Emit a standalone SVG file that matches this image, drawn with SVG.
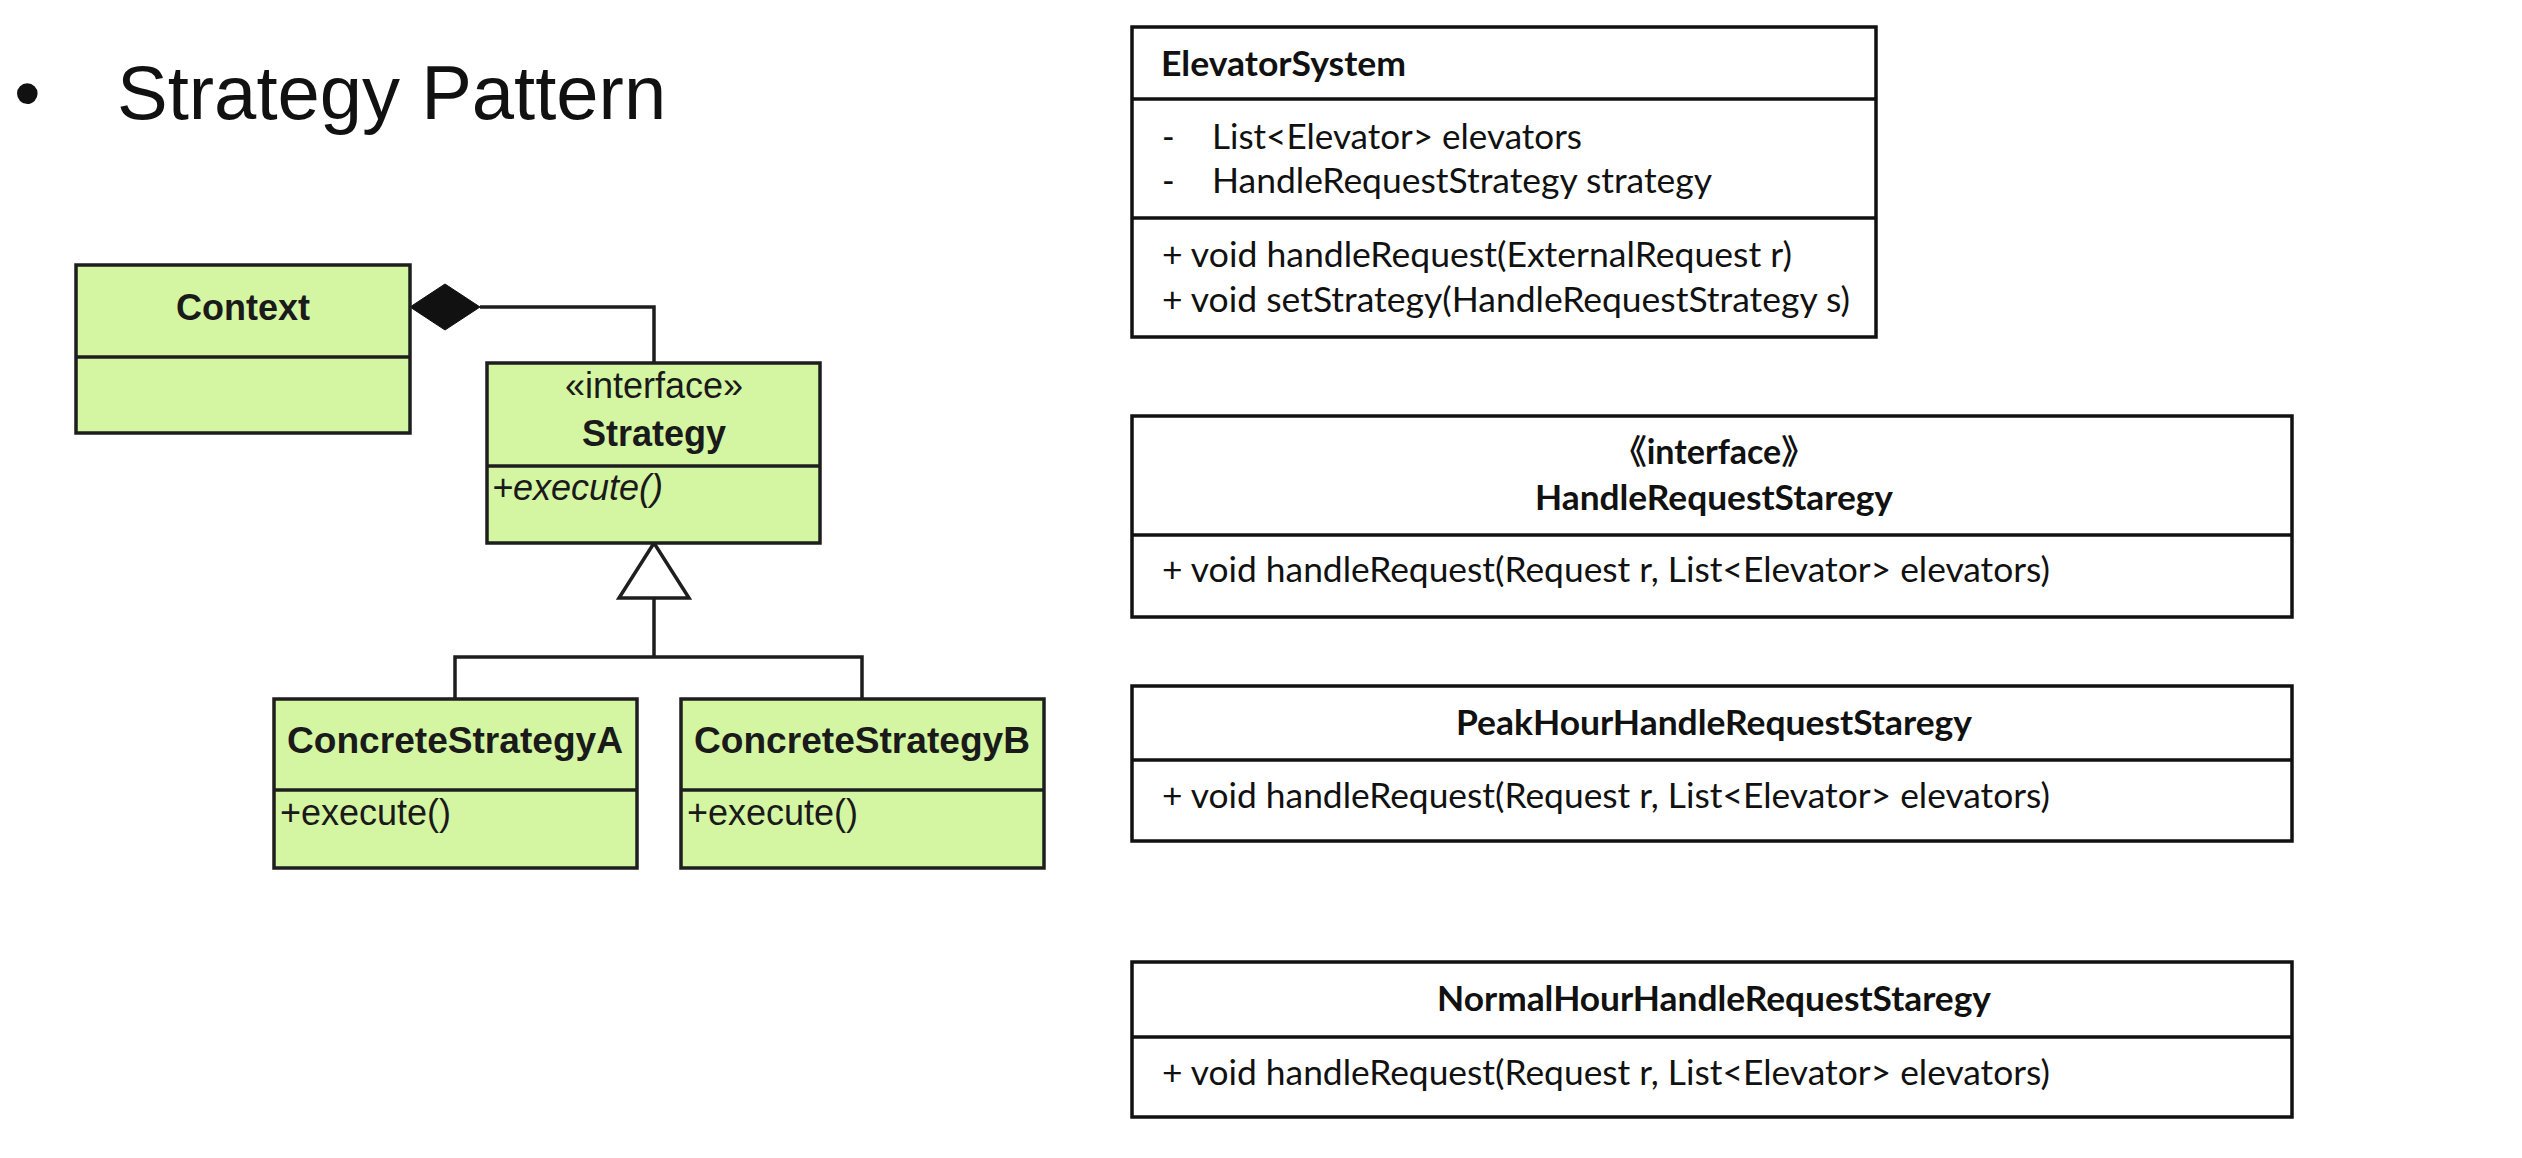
<svg xmlns="http://www.w3.org/2000/svg" width="2522" height="1158" viewBox="0 0 2522 1158">
<style>
.g{fill:#d4f5a2;stroke:#1e1e1e;stroke-width:3.5}
.w{fill:#fff;stroke:#111;stroke-width:3.5}
.ln{stroke:#1e1e1e;stroke-width:3.5;fill:none}
.a{font-family:"Liberation Sans",Arial,sans-serif;fill:#1a1a1a;font-size:36px}
.ab{font-weight:bold}
.it{font-style:italic}
.c{font-family:Lato,"Open Sans","Noto Sans CJK SC",sans-serif;fill:#111;font-size:34px}
.cb{font-weight:bold}
</style>
<rect width="2522" height="1158" fill="#fff"/>
<g id="title">
<text x="14" y="119" font-family="Liberation Sans, Arial, sans-serif" font-size="76" fill="#111">•</text>
<text x="117" y="119" font-family="Liberation Sans, Arial, sans-serif" font-size="76" fill="#111">Strategy Pattern</text>
</g>
<g id="connectors">
<path class="ln" d="M480,307 H654 V363"/>
<polygon points="410,307 445,284 480,307 445,330" fill="#111" stroke="#111" stroke-width="1"/>
<polygon points="654,543 619,598 689,598" fill="#fff" stroke="#1e1e1e" stroke-width="3.5"/>
<path class="ln" d="M654,598 V657 M455,699 V657 H862 V699"/>
</g>
<g id="context">
<rect class="g" x="76" y="265" width="334" height="168"/>
<line class="ln" x1="76" y1="357" x2="410" y2="357"/>
<text class="a ab" x="243" y="320" text-anchor="middle">Context</text>
</g>
<g id="strategy">
<rect class="g" x="487" y="363" width="333" height="180"/>
<line class="ln" x1="487" y1="466" x2="820" y2="466"/>
<text class="a" x="654" y="398" text-anchor="middle" font-size="33">«interface»</text>
<text class="a ab" x="654" y="446" text-anchor="middle">Strategy</text>
<text class="a it" x="492" y="500">+execute()</text>
</g>
<g id="concreteA">
<rect class="g" x="274" y="699" width="363" height="169"/>
<line class="ln" x1="274" y1="790" x2="637" y2="790"/>
<text class="a ab" x="455" y="753" text-anchor="middle" textLength="336" lengthAdjust="spacingAndGlyphs">ConcreteStrategyA</text>
<text class="a" x="280" y="825">+execute()</text>
</g>
<g id="concreteB">
<rect class="g" x="681" y="699" width="363" height="169"/>
<line class="ln" x1="681" y1="790" x2="1044" y2="790"/>
<text class="a ab" x="862" y="753" text-anchor="middle" textLength="336" lengthAdjust="spacingAndGlyphs">ConcreteStrategyB</text>
<text class="a" x="687" y="825">+execute()</text>
</g>
<g id="elevatorSystem">
<rect class="w" x="1132" y="27" width="744" height="310"/>
<line class="w" x1="1132" y1="99" x2="1876" y2="99"/>
<line class="w" x1="1132" y1="218" x2="1876" y2="218"/>
<text class="c cb" x="1161" y="76" textLength="245" lengthAdjust="spacingAndGlyphs">ElevatorSystem</text>
<text class="c" x="1162" y="149">-</text>
<text class="c" x="1212" y="149" textLength="370" lengthAdjust="spacingAndGlyphs">List&lt;Elevator&gt; elevators</text>
<text class="c" x="1162" y="193">-</text>
<text class="c" x="1212" y="193" textLength="500" lengthAdjust="spacingAndGlyphs">HandleRequestStrategy strategy</text>
<text class="c" x="1162" y="267" textLength="630" lengthAdjust="spacingAndGlyphs">+ void handleRequest(ExternalRequest r)</text>
<text class="c" x="1162" y="312" textLength="688" lengthAdjust="spacingAndGlyphs">+ void setStrategy(HandleRequestStrategy s)</text>
</g>
<g id="handleRequestStrategy">
<rect class="w" x="1132" y="416" width="1160" height="201"/>
<line class="w" x1="1132" y1="535" x2="2292" y2="535"/>
<text class="c cb" x="1714" y="464" text-anchor="middle" font-size="37">《interface》</text>
<text class="c cb" x="1714" y="510" text-anchor="middle" textLength="358" lengthAdjust="spacingAndGlyphs">HandleRequestStaregy</text>
<text class="c" x="1162" y="582" textLength="888" lengthAdjust="spacingAndGlyphs">+ void handleRequest(Request r, List&lt;Elevator&gt; elevators)</text>
</g>
<g id="peakHour">
<rect class="w" x="1132" y="686" width="1160" height="155"/>
<line class="w" x1="1132" y1="760" x2="2292" y2="760"/>
<text class="c cb" x="1714" y="735" text-anchor="middle" textLength="516" lengthAdjust="spacingAndGlyphs">PeakHourHandleRequestStaregy</text>
<text class="c" x="1162" y="808" textLength="888" lengthAdjust="spacingAndGlyphs">+ void handleRequest(Request r, List&lt;Elevator&gt; elevators)</text>
</g>
<g id="normalHour">
<rect class="w" x="1132" y="962" width="1160" height="155"/>
<line class="w" x1="1132" y1="1037" x2="2292" y2="1037"/>
<text class="c cb" x="1714" y="1011" text-anchor="middle" textLength="554" lengthAdjust="spacingAndGlyphs">NormalHourHandleRequestStaregy</text>
<text class="c" x="1162" y="1085" textLength="888" lengthAdjust="spacingAndGlyphs">+ void handleRequest(Request r, List&lt;Elevator&gt; elevators)</text>
</g>
</svg>
